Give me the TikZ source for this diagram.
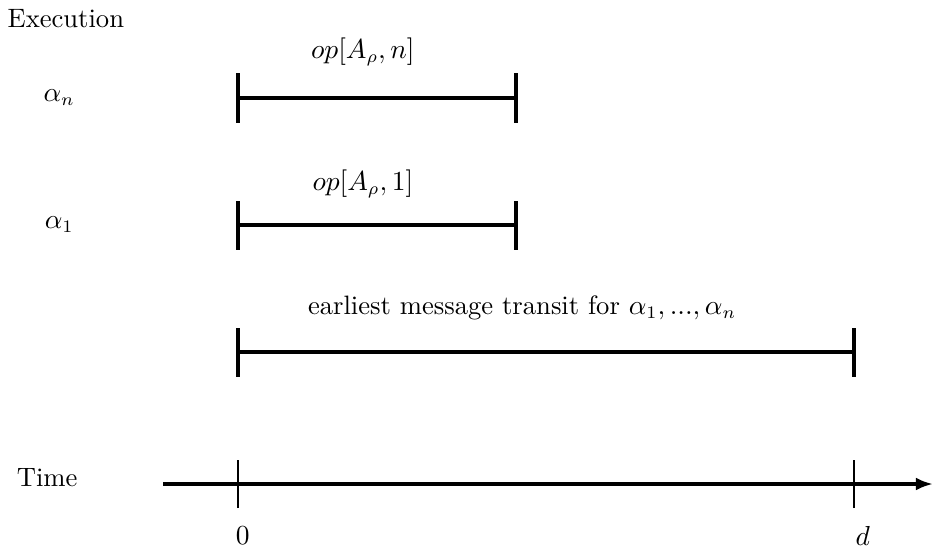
\documentclass[tikz,border=0pt]{standalone}
\usetikzlibrary{arrows.meta}
\tikzset{
  bar/.style={line width=1.3pt, draw=black, line cap=butt},
  barend/.style={line width=1.3pt, draw=black},
  timeaxis/.style={line width=1.3pt, draw=black, -{Latex[length=2.4mm,width=1.8mm]}},
  timemark/.style={line width=0.8pt, draw=black},
  rowlabel/.style={font=\fontsize{10.6}{13}\selectfont},
}

\begin{document}
\begin{tikzpicture}
\useasboundingbox (0,0) rectangle (13.062,7.700);
\node[rowlabel, anchor=west, inner sep=0pt] (exec) at (0.100,7.440) {Execution};
% operation of alpha_n
\node[rowlabel] (an) at (0.830,6.328) {$\alpha_n$};
\node[rowlabel] (opn) at (5.080,6.972) {$op[A_\rho,n]$};
\draw[bar] (3.332,6.328) -- (7.224,6.328);
\draw[barend] (3.332,5.985) -- (3.332,6.671);
\draw[barend] (7.224,5.985) -- (7.224,6.671);
% operation of alpha_1
\node[rowlabel] (a1) at (0.830,4.550) {$\alpha_1$};
\node[rowlabel] (op1) at (5.080,5.124) {$op[A_\rho,1]$};
\draw[bar] (3.332,4.550) -- (7.224,4.550);
\draw[barend] (3.332,4.207) -- (3.332,4.893);
\draw[barend] (7.224,4.207) -- (7.224,4.893);
% message transit
\node[rowlabel] (transit) at (7.310,3.390) {earliest message transit for $\alpha_1,...,\alpha_n$};
\draw[bar] (3.332,2.772) -- (11.956,2.772);
\draw[barend] (3.332,2.429) -- (3.332,3.115);
\draw[barend] (11.956,2.429) -- (11.956,3.115);
% time axis
\node[rowlabel] (time) at (0.660,1.020) {Time};
\draw[timeaxis] (2.282,0.924) -- (13.062,0.924);
\draw[timemark] (3.332,0.588) -- (3.332,1.260);
\draw[timemark] (11.956,0.588) -- (11.956,1.260);
\node[rowlabel] (zero) at (3.400,0.200) {$0$};
\node[rowlabel] (dd) at (12.080,0.200) {$d$};
\end{tikzpicture}
\end{document}
